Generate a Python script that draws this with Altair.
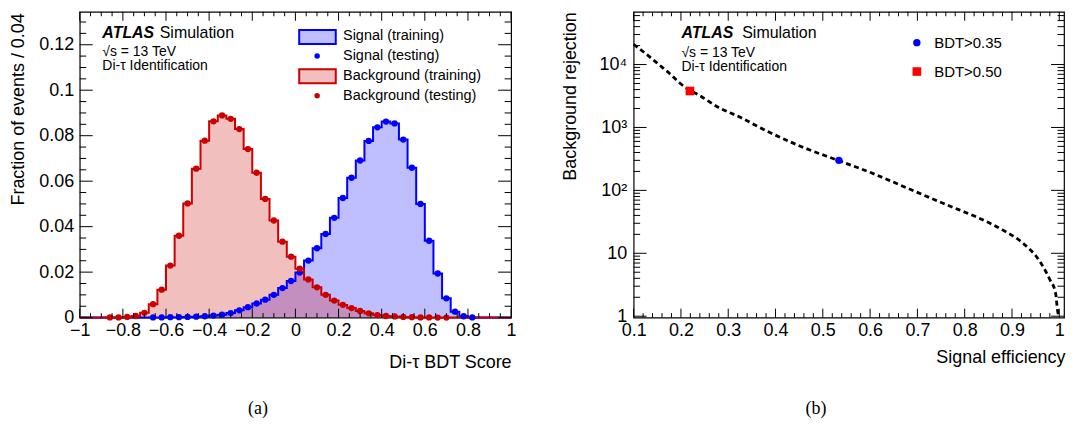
import altair as alt
import numpy as np
import pandas as pd

# ------------------------------------------------------------------ data
BIN_W = 0.04
bin_centers = [round(-1 + BIN_W / 2 + BIN_W * i, 2) for i in range(50)]

signal_train = [0, 0, 0, 0, 0, 0, 0, 0,
                0.0001, 0.0001, 0.0002, 0.0002, 0.0003, 0.0004, 0.0006, 0.0009, 0.0013, 0.0020,
                0.0032, 0.0046, 0.0062, 0.0079, 0.0100, 0.0130, 0.0161, 0.0198, 0.0251, 0.0305,
                0.0368, 0.0439, 0.0526, 0.0615, 0.0691, 0.0777, 0.0837, 0.0862, 0.0854, 0.0783,
                0.0659, 0.0500, 0.0338, 0.0194, 0.0085, 0.0026, 0.0006, 0.0001,
                0, 0, 0, 0]
background_train = [0, 0, 0,
                    0.0001, 0.0001, 0.0003, 0.0007, 0.0021, 0.0059, 0.0123, 0.0229, 0.0360, 0.0502,
                    0.0655, 0.0778, 0.0863, 0.0889, 0.0874, 0.0829, 0.0741, 0.0637, 0.0522, 0.0427,
                    0.0334, 0.0268, 0.0215, 0.0168, 0.0133, 0.0100, 0.0075, 0.0056, 0.0042, 0.0029,
                    0.0019, 0.0011, 0.0007, 0.0005, 0.0003, 0.0002, 0.0001, 0.0001,
                    0, 0, 0, 0, 0, 0, 0, 0, 0]

signal_test_x = bin_centers[8:46]
signal_test = [0.0001, 0.0001, 0.0002, 0.0002, 0.0003, 0.0004, 0.0006, 0.0009, 0.0013, 0.0020,
               0.0032, 0.0046, 0.0062, 0.0079, 0.0100, 0.0130, 0.0161, 0.0198, 0.0251, 0.0305,
               0.0368, 0.0439, 0.0526, 0.0615, 0.0691, 0.0777, 0.0837, 0.0862, 0.0854, 0.0783,
               0.0659, 0.0500, 0.0338, 0.0194, 0.0085, 0.0026, 0.0006, 0.0001]
background_test_x = bin_centers[3:43]
background_test = [0.0001, 0.0001, 0.0003, 0.0007, 0.0021, 0.0059, 0.0123, 0.0229, 0.0360, 0.0502,
                   0.0655, 0.0778, 0.0863, 0.0889, 0.0874, 0.0829, 0.0741, 0.0637, 0.0522, 0.0427,
                   0.0334, 0.0268, 0.0215, 0.0168, 0.0133, 0.0100, 0.0075, 0.0056, 0.0042, 0.0029,
                   0.0019, 0.0011, 0.0007, 0.0005, 0.0003, 0.0002, 0.0001, 0.0001, 0, 0]

roc_eff = [0.100, 0.134, 0.155, 0.176, 0.197, 0.218, 0.238, 0.280, 0.322, 0.385, 0.455, 0.532,
           0.601, 0.696, 0.767, 0.826, 0.882, 0.924, 0.959, 0.980, 0.992, 0.997, 1.000]
roc_rej = [21000, 13200, 9760, 7210, 5140, 3950, 3270, 2070, 1490, 853, 495, 300,
           192, 95.5, 56.9, 37.4, 23.1, 14.3, 7.4, 3.83, 2.37, 1.15, 1.0]

wp_labels = ["BDT>0.35", "BDT>0.50"]
wp_eff = [0.534, 0.219]
wp_rej = [300, 3800]

left_x_labels = [-1, -0.8, -0.6, -0.4, -0.2, 0, 0.2, 0.4, 0.6, 0.8, 1]
left_y_labels = [0, 0.02, 0.04, 0.06, 0.08, 0.1, 0.12]
right_x_labels = [0.1, 0.2, 0.3, 0.4, 0.5, 0.6, 0.7, 0.8, 0.9, 1]
right_y_labels = [1, 10, 100, 1000, 10000]

# ------------------------------------------------------------------ style
FONT = "Liberation Sans"
SIG = "#0000ff"
BKG = "#cc0000"
W1, W2, H = 433, 432, 307
X1_DOM, Y1_DOM = [-1, 1], [0, 0.1345]
X2_DOM, Y2_DOM = [0.1, 1.01], [0.95, 69000]

one = pd.DataFrame({"a": [0]})


def txt(s, x, y, size=14, weight="normal", style="normal", align="left", font=FONT):
    return alt.Chart(one).mark_text(
        text=s, align=align, baseline="middle", font=font, fontSize=size,
        fontWeight=weight, fontStyle=style, color="black"
    ).encode(x=alt.value(x), y=alt.value(y))


def axis(values, title, **kw):
    base = dict(values=values, ticks=False, tickSize=0, domain=False, grid=False,
                labelFont=FONT, labelFontSize=18, labelColor="black",
                labelFlush=False, labelOverlap=False,
                title=title, titleFont=FONT, titleFontSize=18, titleFontWeight="normal",
                titleColor="black", titleBaseline="middle", titleAlign="right")
    base.update(kw)
    return alt.Axis(**base)


def ticks_x(values, scale, ax, length, width):
    df = pd.DataFrame({"v": values})
    base = alt.Chart(df).mark_rule(color="black", strokeWidth=1)
    xe = alt.X("v:Q", scale=scale, axis=ax)
    return [base.encode(x=xe, y=alt.value(H), y2=alt.value(H - length)),
            base.encode(x=xe, y=alt.value(0), y2=alt.value(length))]


def ticks_y(values, scale, ax, length, width):
    df = pd.DataFrame({"v": values})
    base = alt.Chart(df).mark_rule(color="black", strokeWidth=1)
    ye = alt.Y("v:Q", scale=scale, axis=ax)
    return [base.encode(y=ye, x=alt.value(0), x2=alt.value(length)),
            base.encode(y=ye, x=alt.value(width), x2=alt.value(width - length))]


# ------------------------------------------------------------------ panel (a)
xs1 = alt.Scale(domain=X1_DOM)
ys1 = alt.Scale(domain=Y1_DOM)
edges = [round(c - BIN_W / 2, 2) for c in bin_centers] + [1.0]
step_df = pd.DataFrame({"edge": edges,
                        "sig": signal_train + [signal_train[-1]],
                        "bkg": background_train + [background_train[-1]]})
sig_pts = pd.DataFrame({"x": signal_test_x, "y": signal_test})
bkg_pts = pd.DataFrame({"x": background_test_x, "y": background_test})

xa1 = axis(left_x_labels, "Di-τ BDT Score", format="~g", labelPadding=4,
           titleX=W1, titleY=45, titleAngle=0)
ya1 = axis(left_y_labels, "Fraction of events / 0.04", format="~g", labelPadding=6,
           titleX=-61, titleY=1, titleAngle=270)


def X1(f):
    return alt.X(f, scale=xs1, axis=xa1)


def Y1(f):
    return alt.Y(f, scale=ys1, axis=ya1)


sb = alt.Chart(step_df)
layers_a = [
    sb.mark_area(interpolate="step-after", color=SIG, opacity=0.25).encode(
        x=X1("edge:Q"), y=Y1("sig:Q")),
    sb.mark_area(interpolate="step-after", color=BKG, opacity=0.25).encode(
        x=X1("edge:Q"), y=Y1("bkg:Q")),
    sb.mark_line(interpolate="step-after", color=SIG, strokeWidth=2).encode(
        x=X1("edge:Q"), y=Y1("sig:Q")),
    sb.mark_line(interpolate="step-after", color=BKG, strokeWidth=2).encode(
        x=X1("edge:Q"), y=Y1("bkg:Q")),
    alt.Chart(sig_pts).mark_circle(color=SIG, size=40, opacity=1).encode(
        x=X1("x:Q"), y=Y1("y:Q")),
    alt.Chart(bkg_pts).mark_circle(color=BKG, size=40, opacity=1).encode(
        x=X1("x:Q"), y=Y1("y:Q")),
]
x1_major = left_x_labels
x1_minor = [v for v in np.round(np.arange(-1, 1.0001, 0.05), 3) if round(v / 0.2, 6) % 1 != 0]
y1_major = left_y_labels
y1_minor = [v for v in np.round(np.arange(0, 0.1345, 0.005), 4) if v not in y1_major]
layers_a += ticks_x(x1_major, xs1, xa1, 9, W1) + ticks_x(x1_minor, xs1, xa1, 4.5, W1)
layers_a += ticks_y(y1_major, ys1, ya1, 13, W1) + ticks_y(y1_minor, ys1, ya1, 6.5, W1)

layers_a += [
    txt("ATLAS", 22.7, 21.7, size=16, weight="bold", style="italic"),
    txt("Simulation", 80.3, 21.7, size=16),
    txt("√s = 13 TeV", 22.7, 40.3, size=14),
    txt("Di-τ Identification", 22.7, 54.3, size=14),
    alt.Chart(one).mark_rect(fill=SIG, fillOpacity=0.25, stroke=SIG, strokeWidth=2).encode(
        x=alt.value(220.3), x2=alt.value(257), y=alt.value(18.3), y2=alt.value(32.3)),
    alt.Chart(one).mark_circle(color=SIG, size=30, opacity=1).encode(
        x=alt.value(238.3), y=alt.value(44.3)),
    alt.Chart(one).mark_rect(fill=BKG, fillOpacity=0.25, stroke=BKG, strokeWidth=2).encode(
        x=alt.value(220.3), x2=alt.value(257), y=alt.value(57.7), y2=alt.value(71.7)),
    alt.Chart(one).mark_circle(color=BKG, size=30, opacity=1).encode(
        x=alt.value(238.3), y=alt.value(84.3)),
    txt("Signal (training)", 264.3, 24.3, size=14.5),
    txt("Signal (testing)", 264.3, 44.3, size=14.5),
    txt("Background (training)", 264.3, 64.3, size=14.5),
    txt("Background (testing)", 264.3, 84.3, size=14.5),
    txt("(a)", 179, 399, size=18, align="center", font="Liberation Serif"),
]
panel_a = alt.layer(*layers_a).properties(width=W1, height=H)

# ------------------------------------------------------------------ panel (b)
xs2 = alt.Scale(domain=X2_DOM)
ys2 = alt.Scale(type="log", domain=Y2_DOM)
roc_df = pd.DataFrame({"eff": roc_eff, "rej": roc_rej})
wp_df = pd.DataFrame({"eff": wp_eff, "rej": wp_rej, "wp": wp_labels})

sup = ("datum.value < 5 ? '1' : datum.value < 50 ? '10' : datum.value < 500 ? '10²' : "
       "datum.value < 5000 ? '10³' : '10⁴'")
xa2 = axis(right_x_labels, "Signal efficiency", format="~g", labelPadding=4,
           titleX=W2 + 1, titleY=40, titleAngle=0)
ya2 = axis(right_y_labels, "Background rejection", labelExpr=sup, labelPadding=7,
           titleX=-63, titleY=0, titleAngle=270)


def X2(f):
    return alt.X(f, scale=xs2, axis=xa2)


def Y2(f):
    return alt.Y(f, scale=ys2, axis=ya2)


layers_b = [
    alt.Chart(roc_df).mark_line(color="black", strokeDash=[5, 3.5], strokeWidth=2.8,
                                interpolate="monotone").encode(x=X2("eff:Q"), y=Y2("rej:Q")),
    alt.Chart(wp_df).transform_filter(alt.datum.wp == "BDT>0.35").mark_point(
        shape="circle", filled=True, color=SIG, size=55, opacity=1).encode(
        x=X2("eff:Q"), y=Y2("rej:Q")),
    alt.Chart(wp_df).transform_filter(alt.datum.wp == "BDT>0.50").mark_point(
        shape="square", filled=True, color="#ff0000", size=75, opacity=1).encode(
        x=X2("eff:Q"), y=Y2("rej:Q")),
]
x2_major = right_x_labels
x2_minor = [v for v in np.round(np.arange(0.1, 1.0101, 0.02), 3) if round(v * 10, 6) % 1 != 0]
y2_major = right_y_labels
y2_minor = [m * d for d in [1, 10, 100, 1000, 10000] for m in range(2, 10) if m * d < 69000]
layers_b += ticks_x(x2_major, xs2, xa2, 9, W2) + ticks_x(x2_minor, xs2, xa2, 4.5, W2)
layers_b += ticks_y(y2_major, ys2, ya2, 13, W2) + ticks_y(y2_minor, ys2, ya2, 6.5, W2)

layers_b += [
    txt("ATLAS", 48, 21.7, size=16, weight="bold", style="italic"),
    txt("Simulation", 109, 21.7, size=16),
    txt("√s = 13 TeV", 48, 41, size=14),
    txt("Di-τ Identification", 48, 55, size=14),
    alt.Chart(one).mark_point(shape="circle", filled=True, color=SIG, size=55, opacity=1).encode(
        x=alt.value(284.3), y=alt.value(31)),
    alt.Chart(one).mark_point(shape="square", filled=True, color="#ff0000", size=75, opacity=1).encode(
        x=alt.value(284.3), y=alt.value(60)),
    txt(wp_labels[0], 301.7, 31, size=15),
    txt(wp_labels[1], 301.7, 60, size=15),
    txt("(b)", 183, 399, size=18, align="center", font="Liberation Serif"),
]
panel_b = alt.layer(*layers_b).properties(width=W2, height=H)

chart = alt.hconcat(panel_a, panel_b, spacing=123, bounds="flush").properties(
    padding={"left": 1, "top": 1, "right": 0, "bottom": 0}
).configure_view(stroke="black", strokeWidth=1.2)

chart.save("out.html", embed_options={"renderer": "svg", "actions": False})
